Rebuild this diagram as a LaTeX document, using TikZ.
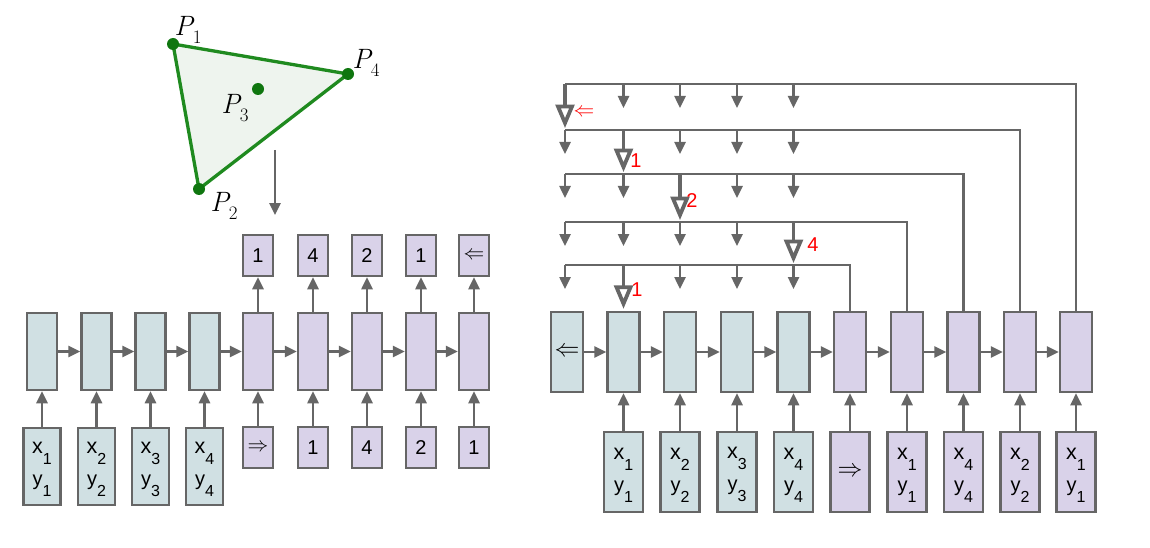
\documentclass[tikz,border=0pt]{standalone}
\usepackage{fontspec}
\setmainfont{Liberation Sans}
\newfontfamily\lmfont{Latin Modern Roman}
\usetikzlibrary{arrows.meta,calc}
\definecolor{bgc}{HTML}{D0E0E3}
\definecolor{pc}{HTML}{D9D2E9}
\definecolor{lc}{HTML}{666666}
\definecolor{tg}{HTML}{1F8A1F}
\definecolor{td}{HTML}{0F760F}
\definecolor{tf}{HTML}{EEF4EE}
\newcommand\sublbl[2]{#1\raisebox{-11pt}{\fontsize{16}{16}\selectfont#2}}
\newcommand\xylbl[1]{\fontsize{21.5}{33}\selectfont\rule{0pt}{17pt}\sublbl{x}{#1}\\\sublbl{y}{#1}}
\newcommand\plbl[1]{{\lmfont\itshape P}\raisebox{-8pt}{\lmfont\fontsize{19}{19}\selectfont #1}}
\tikzset{
  box/.style={draw=lc, line width=2.5pt, inner sep=0pt, align=center, font=\fontsize{20}{32}\selectfont},
  lhb/.style={box, fill=bgc, minimum width=30pt, minimum height=77pt},
  lhp/.style={box, fill=pc, minimum width=30pt, minimum height=77pt},
  lib/.style={box, fill=bgc, minimum width=37pt, minimum height=77pt},
  lsp/.style={box, fill=pc, minimum width=30pt, minimum height=41pt},
  rhb/.style={box, fill=bgc, minimum width=32pt, minimum height=80pt},
  rhp/.style={box, fill=pc, minimum width=32pt, minimum height=80pt},
  rib/.style={box, fill=bgc, minimum width=39pt, minimum height=80pt},
  rip/.style={box, fill=pc, minimum width=39pt, minimum height=80pt},
  arr/.style={draw=lc, line width=2.5pt, -{Triangle[length=12pt,width=11pt]}},
  ln/.style={draw=lc, line width=2.5pt},
  bigstem/.style={draw=lc, line width=3.8pt, shorten >=23pt},
  bigtip/.style={draw=lc, fill=white, line width=3.8pt, line join=miter},
  redl/.style={text=red, font=\fontsize{20}{20}\selectfont},
  dot/.style={circle, fill=td, inner sep=0pt, minimum size=12pt},
  plab/.style={font=\fontsize{28}{28}\selectfont},
  bigsym/.style={font=\fontsize{24}{24}\selectfont}
}
\newcommand\bigarrow[2]{%
  \draw[bigstem] (#1) -- (#2);
  \draw[bigtip] ($(#2)+(-7,-23.5)$) -- ($(#2)+(7,-23.5)$) -- ($(#2)+(0,-7)$) -- cycle;
}
\begin{document}
\begin{tikzpicture}[x=1pt,y=-1pt]
\useasboundingbox (0,0) rectangle (1150,548);
% triangle
\coordinate (p1) at (173,44);
\coordinate (p2) at (199,189);
\coordinate (p4) at (348,74);
\draw[draw=tg, fill=tf, line width=3.3pt, line join=round] (p1) -- (p2) -- (p4) -- cycle;
\node[dot] (P1) at (p1) {};
\node[dot] (P2) at (p2) {};
\node[dot] (P4) at (p4) {};
\node[dot] (P3) at (258,89) {};
\node[plab] (L1) at (188,30) {\plbl{1}};
\node[plab] (L4) at (366,63) {\plbl{4}};
\node[plab] (L3) at (235,108) {\plbl{3}};
\node[plab] (L2) at (224,206) {\plbl{2}};
\coordinate (ta) at (275,150);
\coordinate (tb) at (275,215);
\draw[arr] (ta) -- (tb);
% left diagram
\foreach \x [count=\i] in {42,96.5,150.5,204.5} {
  \node[lhb] (lh\i) at (\x,351.5) {};
  \node[lib] (li\i) at (\x,466.5) {\xylbl{\i}};
}
\foreach \x/\inl/\outl [count=\j from 5] in {258/{\fontsize{22}{22}\selectfont$\Rightarrow$}/1, 313/1/4, 367/4/2, 421/2/1, 474/1/{\fontsize{22}{22}\selectfont$\Leftarrow$}} {
  \node[lhp] (lh\j) at (\x,351.5) {};
  \node[lsp] (li\j) at (\x,447.5) {\inl};
  \node[lsp] (lo\j) at (\x,255.5) {\outl};
  \draw[arr] (lh\j.north) -- (lo\j.south);
}
\foreach \i in {1,...,9} { \draw[arr] (li\i.north) -- (lh\i.south); }
\foreach \i [evaluate=\i as \n using int(\i+1)] in {1,...,8} { \draw[arr] (lh\i.east) -- (lh\n.west); }
% right diagram
\node[rhb, bigsym] (rh1) at (567,352) {$\Leftarrow$};
\foreach \x [count=\i from 2] in {623.5,680,737,793.5} {
  \node[rhb] (rh\i) at (\x,352) {};
  \node[rib] (ri\i) at (\x,472) {\xylbl{\the\numexpr\i-1\relax}};
}
\node[rhp] (rh6) at (850,352) {};
\node[rip, bigsym] (ri6) at (850,472) {$\Rightarrow$};
\foreach \x/\k [count=\i from 7] in {907/1,963.5/4,1020/2,1076/1} {
  \node[rhp] (rh\i) at (\x,352) {};
  \node[rip] (ri\i) at (\x,472) {\xylbl{\k}};
}
\foreach \i in {2,...,10} { \draw[arr] (ri\i.north) -- (rh\i.south); }
\foreach \i [evaluate=\i as \n using int(\i+1)] in {1,...,9} { \draw[arr] (rh\i.east) -- (rh\n.west); }
% rows
\foreach \r/\y/\h/\bc in {1/84/10/1, 2/130/9/2, 3/174/8/3, 4/222/7/5, 5/265/6/2} {
  \coordinate (row\r) at (565,\y);
  \draw[ln] (rh\h.north) |- (row\r);
  \foreach \c/\cx in {1/565,2/623.5,3/680,4/737,5/793.5} {
    \coordinate (s\r\c) at (\cx,\y);
    \ifnum\c=\bc\relax\else
      \coordinate (e\r\c) at (\cx,\y+24);
      \draw[arr] (s\r\c) -- (e\r\c);
    \fi
  }
}
\bigarrow{s11}{s21}
\bigarrow{s22}{s32}
\bigarrow{s33}{s43}
\bigarrow{s45}{s55}
\bigarrow{s52}{rh2.north}
\node[redl] (r1) at (584,113) {$\Leftarrow$};
\node[redl] (r2) at (636,161) {1};
\node[redl] (r3) at (692,201) {2};
\node[redl] (r4) at (813,245) {4};
\node[redl] (r5) at (637,290) {1};
\end{tikzpicture}
\end{document}
